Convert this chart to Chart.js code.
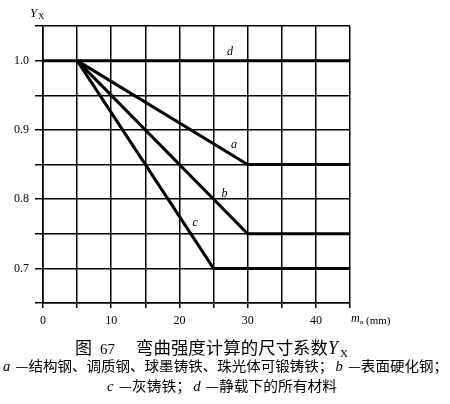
<!DOCTYPE html>
<html>
<head>
<meta charset="utf-8">
<script src="https://cdn.jsdelivr.net/npm/chart.js@4/dist/chart.umd.min.js"></script>
<style>
  html, body { margin: 0; padding: 0; background: #fff; }
  #wrap { width: 450px; height: 404px; }
</style>
</head>
<body>
<div id="wrap"><canvas id="c" width="450" height="404"></canvas></div>
<script>
// Size coefficient Y_X versus normal module m_n (mm)
const curveAX = [5, 30, 45];
const curveAY = [1.0, 0.85, 0.85];
const curveBX = [5, 30, 45];
const curveBY = [1.0, 0.75, 0.75];
const curveCX = [5, 25, 45];
const curveCY = [1.0, 0.70, 0.70];
const curveDX = [0, 45];
const curveDY = [1.0, 1.0];

// Curve letters and where they sit on the grid
const curveNames = ['a', 'b', 'c', 'd'];
const nameX = [28.0, 26.6, 22.3, 27.4];
const nameY = [0.878, 0.808, 0.766, 1.012];

const SERIF = '"Liberation Serif", "DejaVu Serif", serif';
const CJK = '"Noto Sans CJK SC", "Noto Sans CJK JP", sans-serif';

function pts(xs, ys) { return xs.map((x, i) => ({ x: x, y: ys[i] })); }

function drawRuns(ctx, runs, left, baseline, width) {
  ctx.save();
  let total = 0;
  runs.forEach(r => { ctx.font = r.f; r.w = ctx.measureText(r.t).width; total += r.w + (r.gap || 0); });
  ctx.translate(left, baseline);
  if (width) ctx.scale(width / total, 1);
  let x = 0;
  runs.forEach(r => {
    ctx.font = r.f;
    ctx.fillText(r.t, x, r.dy || 0);
    x += r.w + (r.gap || 0);
  });
  ctx.restore();
}

const annotate = {
  id: 'annotate',
  afterDraw(chart) {
    const ctx = chart.ctx;
    const xs = chart.scales.x, ys = chart.scales.y;
    ctx.save();
    ctx.fillStyle = '#000';

    // curve letters
    ctx.font = 'italic 12px ' + SERIF;
    ctx.textAlign = 'center';
    ctx.textBaseline = 'middle';
    curveNames.forEach((n, i) => {
      ctx.fillText(n, xs.getPixelForValue(nameX[i]), ys.getPixelForValue(nameY[i]));
    });
    ctx.textAlign = 'left';
    ctx.textBaseline = 'alphabetic';

    // y axis title Y_X
    ctx.font = 'italic 13px ' + SERIF;
    ctx.fillText('Y', 30, 17);
    ctx.font = '9px ' + SERIF;
    ctx.fillText('X', 38, 19);

    // x axis title m_n (mm)
    ctx.font = 'italic 12px ' + SERIF;
    ctx.fillText('m', 351, 322);
    ctx.font = '7px ' + SERIF;
    ctx.fillText('n', 360, 324);
    ctx.font = '11px ' + SERIF;
    ctx.fillText('(mm)', 366, 324);

    // caption
    ctx.font = '17px ' + CJK;
    ctx.fillText('图', 75, 354);
    ctx.font = '15px ' + SERIF;
    ctx.fillText('67', 100, 354);
    drawRuns(ctx, [{ t: '弯曲强度计算的尺寸系数', f: '17px ' + CJK }], 136, 354, 192);
    ctx.font = 'italic 18px ' + SERIF;
    ctx.fillText('Y', 328, 354);
    ctx.font = '11px ' + SERIF;
    ctx.fillText('X', 340, 357);

    drawRuns(ctx, [
      { t: 'a', f: 'italic 14px ' + SERIF, gap: 5 },
      { t: '—结构钢、调质钢、球墨铸铁、珠光体可锻铸铁；', f: '14px ' + CJK, gap: 2 },
      { t: 'b', f: 'italic 14px ' + SERIF, gap: 5 },
      { t: '—表面硬化钢；', f: '14px ' + CJK }
    ], 3, 371, 445);

    drawRuns(ctx, [
      { t: 'c', f: 'italic 14px ' + SERIF, gap: 5 },
      { t: '—灰铸铁；', f: '14px ' + CJK, gap: 2 },
      { t: 'd', f: 'italic 14px ' + SERIF, gap: 5 },
      { t: '—静载下的所有材料', f: '14px ' + CJK }
    ], 107, 391, 230);
    ctx.restore();
  }
};

const lineStyle = { showLine: true, borderColor: '#000', borderWidth: 3, pointRadius: 0, fill: false, tension: 0 };

new Chart(document.getElementById('c'), {
  type: 'scatter',
  data: {
    datasets: [
      Object.assign({ label: 'a', data: pts(curveAX, curveAY) }, lineStyle),
      Object.assign({ label: 'b', data: pts(curveBX, curveBY) }, lineStyle),
      Object.assign({ label: 'c', data: pts(curveCX, curveCY) }, lineStyle),
      Object.assign({ label: 'd', data: pts(curveDX, curveDY) }, lineStyle)
    ]
  },
  options: {
    responsive: false,
    animation: false,
    layout: { padding: { top: 26, right: 100, left: 0, bottom: 0 } },
    plugins: { legend: { display: false }, tooltip: { enabled: false } },
    scales: {
      x: {
        type: 'linear', min: 0, max: 45,
        afterFit(s) { s.height = 101; },
        grid: { color: '#000', lineWidth: 1.5, tickLength: 5, tickColor: '#000' },
        border: { color: '#000', width: 1.6 },
        ticks: {
          stepSize: 5, padding: 6, color: '#000', maxRotation: 0, autoSkip: false,
          font: { family: SERIF, size: 12 },
          callback: v => (Math.round(v) % 10 === 0 ? String(Math.round(v)) : '')
        }
      },
      y: {
        type: 'linear', min: 0.65, max: 1.05,
        afterFit(s) { s.width = 43; },
        grid: { color: '#000', lineWidth: 1.5, tickLength: 8, tickColor: '#000' },
        border: { color: '#000', width: 1.6 },
        ticks: {
          stepSize: 0.05, padding: 6, color: '#000', autoSkip: false,
          font: { family: SERIF, size: 12 },
          callback: v => { const k = Math.round(v * 100); return k % 10 === 0 ? (k / 100).toFixed(1) : ''; }
        }
      }
    }
  },
  plugins: [annotate]
});
</script>
</body>
</html>
